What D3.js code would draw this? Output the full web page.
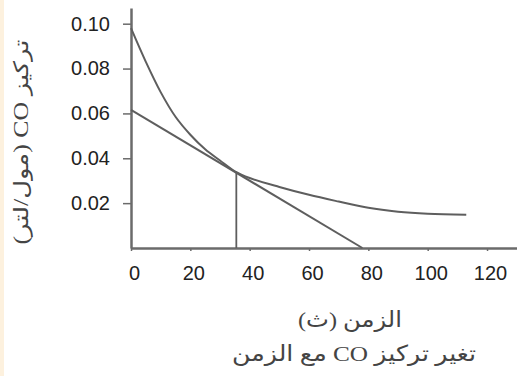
<!DOCTYPE html>
<html>
<head>
<meta charset="utf-8">
<script src="https://cdn.jsdelivr.net/npm/d3@7"></script>
<style>
  body { margin: 0; background: #fff; }
  svg { display: block; }
</style>
</head>
<body>
<div id="chart"></div>
<script>
// tick labels
const timeTicks = [0, 20, 40, 60, 80, 100, 120];
const concTicks = [0.02, 0.04, 0.06, 0.08, 0.10];

// concentration curve (time in s, mol/L)
const curveT = [0, 5, 10, 15, 20, 25, 30, 35, 40, 50, 60, 70, 80, 90, 100, 113];
const curveC = [0.098, 0.083, 0.0695, 0.0585, 0.0505, 0.044, 0.039, 0.0342, 0.0312, 0.0272, 0.0237, 0.0207, 0.0179, 0.0162, 0.0153, 0.0148];

// tangent line at the marked point
const tangentT = [0, 78];
const tangentC = [0.0616, 0];

// vertical marker
const markerT = [35.5, 35.5];
const markerC = [0, 0.034];

const yLabel = 'تركيز CO (مول/لتر)';
const xLabel = 'الزمن (ث)';
const caption = 'تغير تركيز CO مع الزمن';

const W = 517, H = 376;
const svg = d3.select('#chart').append('svg')
  .attr('width', W)
  .attr('height', H);

// light strip on the left edge
svg.append('rect')
  .attr('x', 0).attr('y', 0)
  .attr('width', 4).attr('height', H)
  .attr('fill', '#fdf1de');

const x = d3.scaleLinear().domain([0, 130]).range([131, 516.7]);
const y = d3.scaleLinear().domain([0, 0.107]).range([248, 8]);

const lineColor = '#5e5e5e';
const axisColor = '#6b6b6b';

// axes
const xAxis = svg.append('g')
  .attr('transform', `translate(0,${y(0)})`)
  .call(d3.axisBottom(x).tickValues(timeTicks).tickSize(3).tickSizeOuter(0).tickPadding(15).tickFormat(d3.format('d')));

const yAxis = svg.append('g')
  .attr('transform', `translate(${x(0)},0)`)
  .call(d3.axisLeft(y).tickValues(concTicks).tickSize(8).tickSizeOuter(0).tickPadding(13).tickFormat(d3.format('.2f')));

[xAxis, yAxis].forEach(g => {
  g.select('.domain').attr('stroke', axisColor).attr('stroke-width', 2.5);
  g.selectAll('.tick line').attr('stroke', axisColor).attr('stroke-width', 1.5);
  g.selectAll('.tick text')
    .attr('fill', '#222')
    .style('font-family', 'Liberation Sans, Arial, sans-serif')
    .style('font-size', '20px');
});
xAxis.selectAll('.tick text').attr('dx', 3);

// data lines
svg.append('path')
  .datum(curveT.map((t, i) => [t, curveC[i]]))
  .attr('d', d3.line().x(d => x(d[0])).y(d => y(d[1])).curve(d3.curveCatmullRom))
  .attr('fill', 'none')
  .attr('stroke', lineColor)
  .attr('stroke-width', 2);

svg.append('path')
  .datum(tangentT.map((t, i) => [t, tangentC[i]]))
  .attr('d', d3.line().x(d => x(d[0])).y(d => y(d[1])))
  .attr('fill', 'none')
  .attr('stroke', lineColor)
  .attr('stroke-width', 2);

svg.append('path')
  .datum(markerT.map((t, i) => [t, markerC[i]]))
  .attr('d', d3.line().x(d => x(d[0])).y(d => y(d[1])))
  .attr('fill', 'none')
  .attr('stroke', lineColor)
  .attr('stroke-width', 1.8);

// labels
const labelFont = 'Liberation Serif, Times New Roman, DejaVu Sans, serif';

svg.append('text')
  .attr('transform', `translate(21,${142}) rotate(-90)`)
  .attr('direction', 'rtl')
  .attr('text-anchor', 'middle')
  .attr('dominant-baseline', 'central')
  .attr('textLength', 205)
  .attr('lengthAdjust', 'spacingAndGlyphs')
  .style('font-family', labelFont)
  .style('font-size', '20px')
  .attr('fill', '#444')
  .text(yLabel);

svg.append('text')
  .attr('x', 350).attr('y', 327)
  .attr('direction', 'rtl')
  .attr('text-anchor', 'middle')
  .attr('textLength', 104)
  .attr('lengthAdjust', 'spacingAndGlyphs')
  .style('font-family', labelFont)
  .style('font-size', '22px')
  .attr('fill', '#444')
  .text(xLabel);

svg.append('text')
  .attr('x', 354).attr('y', 361)
  .attr('direction', 'rtl')
  .attr('text-anchor', 'middle')
  .attr('textLength', 244)
  .attr('lengthAdjust', 'spacingAndGlyphs')
  .style('font-family', labelFont)
  .style('font-size', '22px')
  .attr('fill', '#444')
  .text(caption);
</script>
</body>
</html>
